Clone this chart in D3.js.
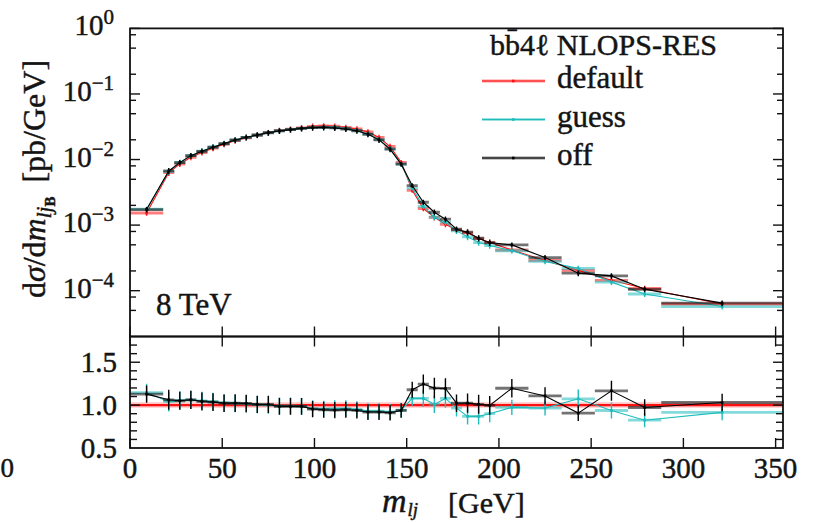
<!DOCTYPE html>
<html>
<head>
<meta charset="utf-8">
<script src="https://cdn.jsdelivr.net/npm/d3@7"></script>
<style>
  body { margin: 0; background: #fff; }
  text { font-family: "Liberation Serif", "DejaVu Serif", serif; fill: #141414; stroke: #141414; stroke-width: 0.45px; }
</style>
</head>
<body>
<svg id="chart" width="814" height="523"></svg>
<script>
// bin edges of m_lj [GeV]
const binEdges = [0, 18, 24, 30, 36, 42, 48, 54, 60, 66, 72, 78, 84, 90, 96, 102, 108, 114, 120,
    126, 132, 138, 144, 150, 156, 162, 168, 174, 180, 186, 192, 198, 216, 234, 252, 270, 288, 354]

// dsigma/dm [pb/GeV], one value per bin
const xsecDefault = [1.53e-3, 6.31e-3, 8.55e-3, 1.08e-2, 1.28e-2, 1.49e-2, 1.71e-2, 1.94e-2, 2.14e-2,
    2.35e-2, 2.55e-2, 2.77e-2, 2.90e-2, 3.03e-2, 3.21e-2, 3.26e-2, 3.22e-2, 3.09e-2, 2.92e-2, 2.64e-2,
    2.17e-2, 1.58e-2, 9.06e-3, 3.40e-3, 1.79e-3, 1.31e-3, 1.03e-3, 8.46e-4, 7.62e-4, 6.24e-4, 5.42e-4,
    4.17e-4, 2.89e-4, 2.04e-4, 1.44e-4, 1.08e-4, 6.26e-5]
const xsecGuess = [1.753e-3, 6.56e-3, 9.02e-3, 1.145e-2, 1.344e-2, 1.550e-2, 1.753e-2, 1.979e-2, 2.172e-2,
    2.362e-2, 2.55e-2, 2.742e-2, 2.871e-2, 2.985e-2, 3.082e-2, 3.113e-2, 3.091e-2, 2.966e-2, 2.774e-2, 2.455e-2,
    2.018e-2, 1.454e-2, 8.52e-3, 3.67e-3, 1.93e-3, 1.32e-3, 1.11e-3, 8.16e-4, 6.62e-4, 5.42e-4, 4.88e-4,
    4.06e-4, 2.79e-4, 2.19e-4, 1.35e-4, 8.9e-5, 5.73e-5]
const xsecOff = [1.726e-3, 6.70e-3, 8.98e-3, 1.147e-2, 1.335e-2, 1.542e-2, 1.749e-2, 1.985e-2, 2.183e-2,
    2.369e-2, 2.570e-2, 2.728e-2, 2.857e-2, 2.985e-2, 3.062e-2, 3.084e-2, 3.033e-2, 2.923e-2, 2.739e-2, 2.426e-2,
    1.994e-2, 1.439e-2, 8.50e-3, 4.01e-3, 2.23e-3, 1.57e-3, 1.23e-3, 8.65e-4, 7.80e-4, 6.30e-4, 5.40e-4,
    4.99e-4, 3.20e-4, 1.85e-4, 1.68e-4, 1.05e-4, 6.45e-5]
// relative stat. error per bin
const relErr = [0.09, 0.11, 0.10, 0.10, 0.10, 0.10, 0.10, 0.10, 0.10, 0.10, 0.10, 0.10, 0.10, 0.10, 0.10,
    0.10, 0.10, 0.10, 0.10, 0.10, 0.10, 0.10, 0.09, 0.08, 0.09, 0.10, 0.10, 0.10, 0.11, 0.11, 0.11,
    0.09, 0.09, 0.10, 0.10, 0.10, 0.10]

const seriesNames = ["default", "guess", "off"]
const seriesColors = ["#ff1010", "#1fbcbc", "#000000"]
const xTicks = [0, 50, 100, 150, 200, 250, 300, 350]
const ratioTickLabels = [0.5, 1.0, 1.5]

const svg = d3.select("#chart")
const plotLeft = 130, plotRight = 783
const mainTop = 28.4, mainBottom = 336.5, ratioBottom = 448

const x = d3.scaleLinear().domain([0, 354]).range([plotLeft, plotRight])
const yMain = d3.scaleLog().domain([2e-5, 1]).range([mainBottom, mainTop])
const yRatio = d3.scaleLinear().domain([0.5, 1.8]).range([ratioBottom, mainBottom])

const binCenters = d3.range(binEdges.length - 1).map(i => (binEdges[i] + binEdges[i + 1]) / 2)

svg.append("clipPath").attr("id", "clipMain").append("rect")
    .attr("x", plotLeft).attr("y", mainTop).attr("width", plotRight - plotLeft).attr("height", mainBottom - mainTop)
svg.append("clipPath").attr("id", "clipRatio").append("rect")
    .attr("x", plotLeft).attr("y", mainBottom).attr("width", plotRight - plotLeft).attr("height", ratioBottom - mainBottom)

function drawSeries(g, vals, errs, yScale, color, withErr) {
    const pts = vals.map((v, i) => ({ x0: binEdges[i], x1: binEdges[i + 1], xc: binCenters[i], v: v, e: errs[i] }))
    // horizontal bin bars
    g.selectAll("line.hbar").data(pts).join("line")
        .attr("class", "hbar")
        .attr("x1", d => x(d.x0)).attr("x2", d => x(d.x1))
        .attr("y1", d => yScale(d.v)).attr("y2", d => yScale(d.v))
        .attr("stroke", color).attr("stroke-width", 2.8).attr("stroke-opacity", 0.55)
    if (withErr) {
        g.selectAll("line.vbar").data(pts).join("line")
            .attr("class", "vbar")
            .attr("x1", d => x(d.xc)).attr("x2", d => x(d.xc))
            .attr("y1", d => yScale(d.v * (1 - d.e))).attr("y2", d => yScale(d.v * (1 + d.e)))
            .attr("stroke", color).attr("stroke-width", 1.4)
    }
    g.append("path").datum(pts)
        .attr("d", d3.line().x(d => x(d.xc)).y(d => yScale(d.v)))
        .attr("fill", "none").attr("stroke", color).attr("stroke-width", 1.1)
    g.selectAll("rect.dot").data(pts).join("rect")
        .attr("class", "dot")
        .attr("x", d => x(d.xc) - 1.3).attr("y", d => yScale(d.v) - 1.3)
        .attr("width", 2.6).attr("height", 2.6).attr("fill", color)
}

// main panel
const mainG = svg.append("g").attr("clip-path", "url(#clipMain)")
const allSeries = [xsecDefault, xsecGuess, xsecOff]
allSeries.forEach((vals, k) => {
    drawSeries(mainG.append("g"), vals, relErr, yMain, seriesColors[k], true)
})

// ratio panel (to default)
const ratioG = svg.append("g").attr("clip-path", "url(#clipRatio)")
ratioG.append("line")
    .attr("x1", x(0)).attr("x2", x(354)).attr("y1", yRatio(1)).attr("y2", yRatio(1))
    .attr("stroke", "#ff8080").attr("stroke-width", 5.5).attr("stroke-opacity", 0.45)
allSeries.forEach((vals, k) => {
    const ratio = vals.map((v, i) => v / xsecDefault[i])
    const g = ratioG.append("g")
    if (k === 0) {
        g.append("line")
            .attr("x1", x(0)).attr("x2", x(354)).attr("y1", yRatio(1)).attr("y2", yRatio(1))
            .attr("stroke", seriesColors[0]).attr("stroke-width", 2.2)
    } else {
        drawSeries(g, ratio, relErr, yRatio, seriesColors[k], true)
    }
})

// frames
const axes = svg.append("g").attr("stroke", "#111").attr("fill", "none")
axes.append("rect").attr("x", plotLeft).attr("y", mainTop)
    .attr("width", plotRight - plotLeft).attr("height", mainBottom - mainTop).attr("stroke-width", 1.8)
axes.append("rect").attr("x", plotLeft).attr("y", mainBottom)
    .attr("width", plotRight - plotLeft).attr("height", ratioBottom - mainBottom).attr("stroke-width", 1.8)

// x ticks, inward
xTicks.forEach(t => {
    const px = x(t)
    ;[[mainBottom, -10], [mainBottom, 10], [ratioBottom, -10]].forEach(([y0, len]) => {
        axes.append("line").attr("x1", px).attr("x2", px).attr("y1", y0).attr("y2", y0 + len)
            .attr("stroke-width", 1.4)
    })
})

// log y ticks
const mantissa = t => Math.round(t / Math.pow(10, Math.floor(Math.log10(t) + 1e-9)))
yMain.ticks().filter(t => [1, 2, 5, 8].includes(mantissa(t))).forEach(t => {
    const len = mantissa(t) === 1 ? 10 : 6
    const py = yMain(t)
    if (py >= mainBottom - 0.5) return
    axes.append("line").attr("x1", plotLeft).attr("x2", plotLeft + len).attr("y1", py).attr("y2", py).attr("stroke-width", 1.4)
    axes.append("line").attr("x1", plotRight).attr("x2", plotRight - len).attr("y1", py).attr("y2", py).attr("stroke-width", 1.4)
})

// ratio y ticks
yRatio.ticks(13).forEach(t => {
    const py = yRatio(t)
    if (py <= mainBottom + 0.5 || py >= ratioBottom - 0.5) return
    const major = Math.abs(t * 2 - Math.round(t * 2)) < 1e-6
    const len = major ? 10 : 7
    axes.append("line").attr("x1", plotLeft).attr("x2", plotLeft + len).attr("y1", py).attr("y2", py).attr("stroke-width", 1.4)
    axes.append("line").attr("x1", plotRight).attr("x2", plotRight - len).attr("y1", py).attr("y2", py).attr("stroke-width", 1.4)
})

// tick labels
const fs = 29
svg.selectAll("text.xtick").data(xTicks).join("text")
    .attr("class", "xtick")
    .attr("x", d => x(d)).attr("y", 478)
    .attr("text-anchor", "middle").attr("font-size", fs)
    .text(d => d)

svg.selectAll("text.rtick").data(ratioTickLabels).join("text")
    .attr("class", "rtick")
    .attr("x", 117).attr("y", d => yRatio(d) + 10)
    .attr("text-anchor", "end").attr("font-size", fs)
    .text(d => d.toFixed(1))

const decades = [0, -1, -2, -3, -4]
decades.forEach(p => {
    const t = svg.append("text")
        .attr("x", 114).attr("y", yMain(Math.pow(10, p)) + 7)
        .attr("text-anchor", "end").attr("font-size", fs)
    t.append("tspan").text("10")
    t.append("tspan").attr("font-size", 21).attr("dy", -11).text(p === 0 ? "0" : "\u2212" + (-p))
})

// label of a neighbouring panel at the left edge
svg.append("text").attr("x", 0.5).attr("y", 477).attr("font-size", 27).text("0")

// axis titles
const xl = svg.append("text").attr("x", 382).attr("y", 512).attr("font-size", 34)
xl.append("tspan").attr("font-style", "italic").text("m")
xl.append("tspan").attr("font-style", "italic").attr("font-size", 19).attr("dy", 4).attr("dx", 1).text("lj")
svg.append("text").attr("x", 448).attr("y", 513).attr("font-size", 30).text("[GeV]")

const yl = svg.append("text")
    .attr("transform", "translate(45,179) rotate(-90)")
    .attr("text-anchor", "middle").attr("font-size", 32)
yl.append("tspan").text("d")
yl.append("tspan").attr("font-style", "italic").text("\u03c3")
yl.append("tspan").text("/d")
yl.append("tspan").attr("font-style", "italic").text("m")
yl.append("tspan").attr("font-style", "italic").attr("font-size", 21).attr("dy", 6).text("lj")
yl.append("tspan").attr("font-weight", "bold").attr("font-size", 15).attr("dy", 4).text("B")
yl.append("tspan").attr("dy", -10).attr("dx", 14).text("[pb/GeV]")

// energy label
svg.append("text").attr("x", 156).attr("y", 315).attr("font-size", 31).text("8 TeV")

// legend
svg.append("text").attr("x", 490).attr("y", 55).attr("font-size", 30).text("bb\u0304\u0034\u2113 NLOPS-RES")
const legendY = [81, 119.5, 158]
seriesNames.forEach((name, k) => {
    const g = svg.append("g")
    g.append("line").attr("x1", 482).attr("x2", 545).attr("y1", legendY[k]).attr("y2", legendY[k])
        .attr("stroke", seriesColors[k]).attr("stroke-width", 2.8).attr("stroke-opacity", 0.45)
    g.append("line").attr("x1", 482).attr("x2", 545).attr("y1", legendY[k]).attr("y2", legendY[k])
        .attr("stroke", seriesColors[k]).attr("stroke-width", 1.1)
    g.append("rect").attr("x", 512).attr("y", legendY[k] - 1.3).attr("width", 2.6).attr("height", 2.6)
        .attr("fill", seriesColors[k])
    g.append("text").attr("x", 557).attr("y", legendY[k] + 7).attr("font-size", 31).text(name)
})
</script>
</body>
</html>
